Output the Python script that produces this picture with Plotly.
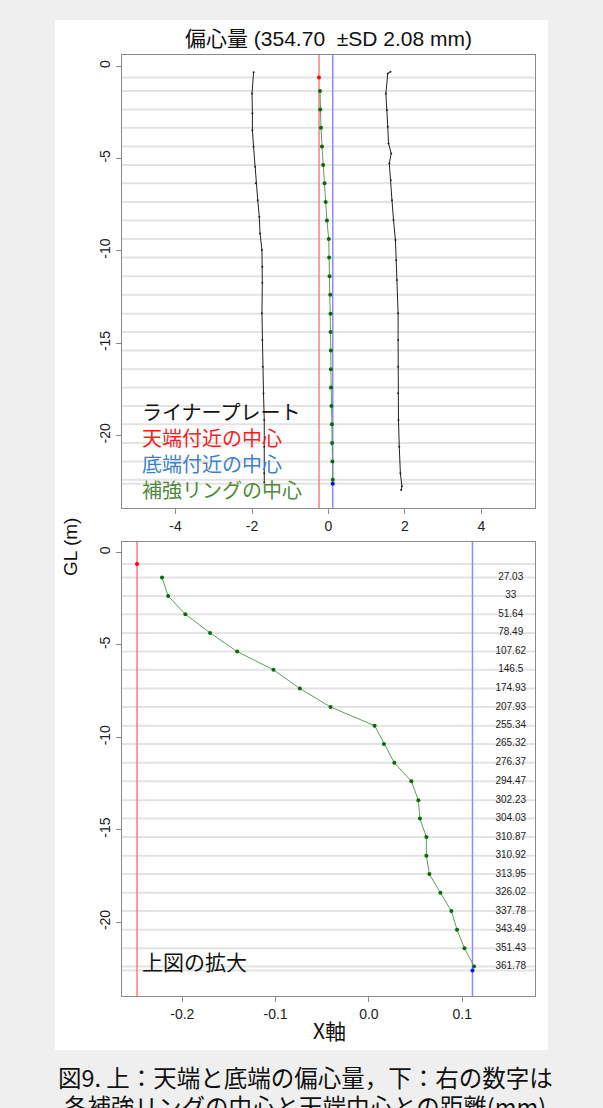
import plotly.graph_objects as go

# ---------------- data ----------------
ring_depth = [-1.35, -2.35, -3.34, -4.35, -5.36, -6.35, -7.36, -8.36, -9.37, -10.36, -11.38,
              -12.38, -13.41, -14.40, -15.40, -16.41, -17.40, -18.41, -19.40, -20.41, -21.41, -22.40]
ring_x = [-0.2217, -0.2152, -0.1967, -0.1702, -0.1412, -0.1023, -0.0740, -0.0411, 0.0061, 0.0161,
          0.0272, 0.0455, 0.0530, 0.0547, 0.0616, 0.0616, 0.0648, 0.0766, 0.0884, 0.0944, 0.1024, 0.1127]
ring_dist_labels = ["27.03", "33", "51.64", "78.49", "107.62", "146.5", "174.93", "207.93", "255.34",
                    "265.32", "276.37", "294.47", "302.23", "304.03", "310.87", "310.92", "313.95",
                    "326.02", "337.78", "343.49", "351.43", "361.78"]

top_center_x = -0.2485
top_center_depth = -0.62
bottom_center_x = 0.111
bottom_center_depth = -22.62

liner_left_depth = [-0.34, -1.48, -2.56, -3.47, -4.37, -5.45, -6.35, -7.26, -8.16, -9.06, -9.96,
                    -10.87, -11.73, -13.39, -14.83, -16.28, -17.72, -19.17, -20.61, -22.05, -22.55]
liner_left_x = [-1.96, -2.00, -1.99, -1.99, -1.96, -1.92, -1.90, -1.85, -1.81, -1.79, -1.74,
                -1.73, -1.73, -1.74, -1.73, -1.72, -1.70, -1.68, -1.68, -1.68, -1.68]
liner_right_depth = [-0.31, -0.40, -1.48, -2.38, -3.29, -4.19, -4.73, -5.28, -6.18, -7.26, -8.34,
                     -9.42, -10.51, -11.59, -13.39, -14.83, -16.28, -17.72, -19.17, -20.61, -22.05,
                     -22.75, -22.95]
liner_right_x = [1.62, 1.55, 1.50, 1.53, 1.55, 1.57, 1.64, 1.59, 1.63, 1.66, 1.70,
                 1.75, 1.77, 1.79, 1.82, 1.82, 1.82, 1.82, 1.83, 1.85, 1.88, 1.92, 1.90]

top_xticks = [-4, -2, 0, 2, 4]
top_xtick_text = ["-4", "-2", "0", "2", "4"]
bot_xticks = [-0.2, -0.1, 0.0, 0.1]
bot_xtick_text = ["-0.2", "-0.1", "0.0", "0.1"]
yticks = [0, -5, -10, -15, -20]
ytick_text = ["0", "-5", "-10", "-15", "-20"]

legend_texts = ["ライナープレート", "天端付近の中心", "底端付近の中心", "補強リングの中心"]
legend_colors = ["#111111", "#ff1a1a", "#3f7fcf", "#4f8a3a"]

title_text = "偏心量 (354.70  ±SD 2.08 mm)"
caption_1 = "図9. 上：天端と底端の偏心量，下：右の数字は"
caption_2 = "各補強リングの中心と天端中心との距離(mm)"

# ---------------- layout geometry ----------------
W, H = 603, 1108
def px_x(v):
    return v / W
def px_y(v):
    return 1 - v / H

FONT = "Liberation Sans, Arial, Noto Sans CJK JP, sans-serif"
CJK = "Noto Sans CJK JP, sans-serif"
GRID = "#e3e3e3"
AXC = "#8a8a8a"

fig = go.Figure()

# white panel behind the figure (added first so it lies underneath everything)
fig.add_shape(type="rect", xref="paper", yref="paper", x0=px_x(55), x1=px_x(548), y0=px_y(1050), y1=px_y(20),
              fillcolor="white", line=dict(width=0), layer="below")

depth_lines = [top_center_depth] + ring_depth + [bottom_center_depth]

for xa, ya in [("x", "y"), ("x2", "y2")]:
    for d in depth_lines:
        fig.add_shape(type="line", xref=f"{xa} domain", yref=ya, x0=0, x1=1, y0=d, y1=d,
                      line=dict(color=GRID, width=2), layer="below")
    fig.add_shape(type="line", xref=xa, yref=f"{ya} domain", x0=top_center_x, x1=top_center_x,
                  y0=0, y1=1, line=dict(color="#ff7b7b", width=1.5), layer="below")
    fig.add_shape(type="line", xref=xa, yref=f"{ya} domain", x0=bottom_center_x, x1=bottom_center_x,
                  y0=0, y1=1, line=dict(color="#8c8cff", width=1.5), layer="below")

# top plot traces
for lx, ly in [(liner_left_x, liner_left_depth), (liner_right_x, liner_right_depth)]:
    fig.add_trace(go.Scatter(x=lx, y=ly, mode="lines+markers", xaxis="x", yaxis="y",
                             line=dict(color="#222222", width=1), marker=dict(size=2, color="#222222"),
                             showlegend=False))

for xa, ya in [("x", "y"), ("x2", "y2")]:
    fig.add_trace(go.Scatter(x=ring_x, y=ring_depth, mode="lines+markers", xaxis=xa, yaxis=ya,
                             line=dict(color="#5aa05a", width=1),
                             marker=dict(size=4, color="#0a6a0a"), showlegend=False))
    fig.add_trace(go.Scatter(x=[top_center_x], y=[top_center_depth], mode="markers", xaxis=xa, yaxis=ya,
                             marker=dict(size=4, color="#ff0000"), showlegend=False))
    fig.add_trace(go.Scatter(x=[bottom_center_x], y=[bottom_center_depth], mode="markers", xaxis=xa, yaxis=ya,
                             marker=dict(size=4, color="#0000ff"), showlegend=False))

# distance labels in bottom plot
fig.add_trace(go.Scatter(x=[0.152] * len(ring_depth), y=ring_depth, mode="text", xaxis="x2", yaxis="y2",
                         text=ring_dist_labels, textfont=dict(size=10, color="#222222", family=FONT),
                         showlegend=False))

axis_common = dict(showgrid=False, zeroline=False, showline=True, mirror=True, linecolor=AXC,
                   linewidth=1, ticks="outside", ticklen=5, tickcolor=AXC,
                   tickfont=dict(size=14, color="#222222", family=FONT))

fig.update_layout(
    width=W, height=H, margin=dict(l=0, r=0, t=0, b=0),
    paper_bgcolor="#efefef", plot_bgcolor="rgba(0,0,0,0)",
    xaxis=dict(domain=[px_x(122), px_x(535)], range=[-5.4, 5.4], tickvals=top_xticks,
               ticktext=top_xtick_text, anchor="y", **axis_common),
    yaxis=dict(domain=[px_y(508), px_y(55)], range=[-23.93, 0.6], tickvals=yticks,
               ticktext=ytick_text, tickangle=-90, anchor="x", **axis_common),
    xaxis2=dict(domain=[px_x(122), px_x(535)], range=[-0.2646, 0.178], tickvals=bot_xticks,
                ticktext=bot_xtick_text, anchor="y2", **axis_common),
    yaxis2=dict(domain=[px_y(996), px_y(542)], range=[-24.0, 0.57], tickvals=yticks,
                ticktext=ytick_text, tickangle=-90, anchor="x2", **axis_common),
)

ann = []
ann.append(dict(text=title_text, x=px_x(328), y=px_y(38), xref="paper", yref="paper", showarrow=False,
                font=dict(size=21, color="#111111", family=FONT + ", " + CJK), xanchor="center", yanchor="middle"))
ann.append(dict(text="GL (m)", x=px_x(70), y=px_y(547), xref="paper", yref="paper", showarrow=False,
                textangle=-90, font=dict(size=19, color="#111111", family=FONT), xanchor="center", yanchor="middle"))
ann.append(dict(text="X軸", x=px_x(330), y=px_y(1030), xref="paper", yref="paper", showarrow=False,
                font=dict(size=21, color="#111111", family=CJK), xanchor="center", yanchor="middle"))
legend_block = "<br>".join(f'<span style="color:{c}">{t}</span>' for t, c in zip(legend_texts, legend_colors))
ann.append(dict(text=legend_block, x=-4.93, y=-20.84, xref="x", yref="y", showarrow=False, xanchor="left",
                yanchor="middle", align="left", font=dict(size=20, color="#111111", family=CJK)))
ann.append(dict(text="上図の拡大", x=-0.245, y=-22.13, xref="x2", yref="y2", showarrow=False, xanchor="left",
                yanchor="middle", font=dict(size=21, color="#111111", family=CJK)))
ann.append(dict(text=caption_1, x=px_x(305), y=px_y(1077), xref="paper", yref="paper", showarrow=False,
                font=dict(size=23.5, color="#111111", family=CJK), xanchor="center", yanchor="middle"))
ann.append(dict(text=caption_2, x=px_x(305), y=px_y(1106), xref="paper", yref="paper", showarrow=False,
                font=dict(size=23.5, color="#111111", family=CJK), xanchor="center", yanchor="middle"))
fig.update_layout(annotations=ann)

fig.write_html("out.html", config={"displayModeBar": False},
               post_script="document.body.style.margin='0';document.body.style.overflow='hidden';")
